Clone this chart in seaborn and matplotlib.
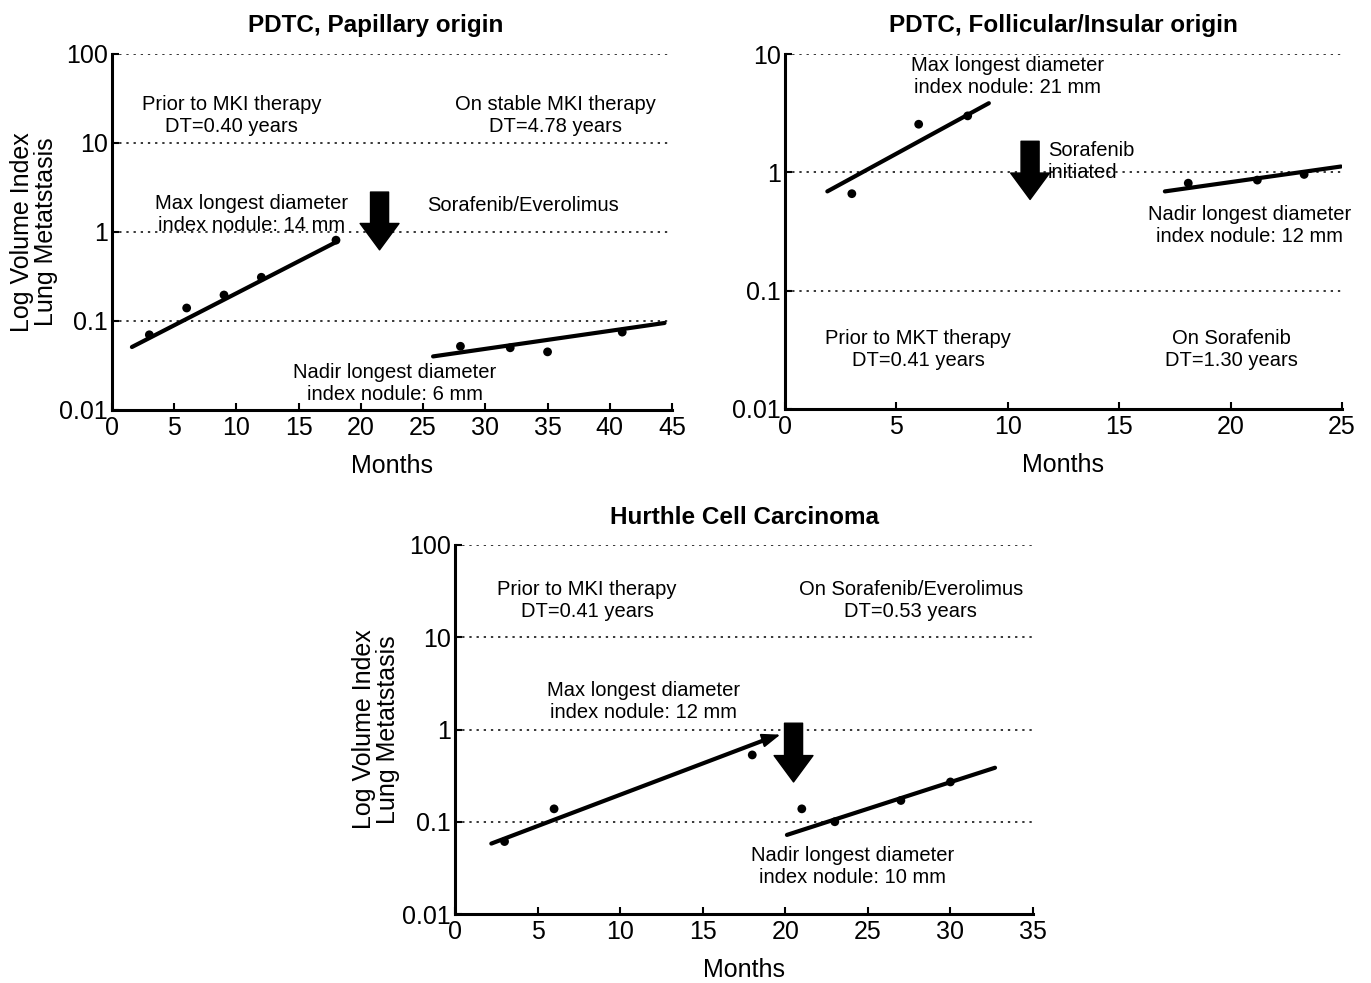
import numpy as np
import pandas as pd
import matplotlib
matplotlib.use("Agg")
import matplotlib.pyplot as plt
from matplotlib.ticker import FixedLocator, NullLocator, FuncFormatter
import seaborn as sns

sns.set_style("ticks")
plt.rcParams['font.family'] = ['Liberation Sans', 'DejaVu Sans']
plt.rcParams['text.color'] = 'black'
plt.rcParams['axes.labelcolor'] = 'black'
plt.rcParams['xtick.color'] = 'black'
plt.rcParams['ytick.color'] = 'black'

# ---- data (months, log volume index) ----
# PDTC, papillary origin
pap_pre_months = [3, 6, 9, 12, 18]
pap_pre_vol = [0.070, 0.14, 0.196, 0.31, 0.81]
pap_on_months = [28, 32, 35, 41]
pap_on_vol = [0.052, 0.050, 0.045, 0.075]
pap_fit_pre_x = [1.6, 18.0]
pap_fit_pre_y = [0.051, 0.77]
pap_fit_on_x = [25.8, 44.4]
pap_fit_on_y = [0.040, 0.095]

# PDTC, follicular/insular origin
fol_pre_months = [3, 6, 8.2]
fol_pre_vol = [0.66, 2.55, 3.0]
fol_on_months = [18.1, 21.2, 23.3]
fol_on_vol = [0.81, 0.86, 0.96]
fol_fit_pre_x = [1.9, 9.15]
fol_fit_pre_y = [0.69, 3.84]
fol_fit_on_x = [17.05, 24.95]
fol_fit_on_y = [0.69, 1.12]

# Hurthle cell carcinoma
hur_pre_months = [3, 6, 18]
hur_pre_vol = [0.061, 0.138, 0.53]
hur_on_months = [21, 23, 27, 30]
hur_on_vol = [0.138, 0.10, 0.17, 0.27]
hur_fit_pre_x = [2.2, 19.0]
hur_fit_pre_y = [0.058, 0.80]
hur_fit_on_x = [20.1, 32.7]
hur_fit_on_y = [0.072, 0.385]

TXT = 14.5
LW_FIT = 3.0


def style_axis(ax, xmax, xstep, ymin, ymax):
    ax.set_yscale('log')
    ax.set_xlim(0, xmax)
    ax.set_ylim(ymin, ymax)
    decades = [10.0 ** k for k in range(int(np.log10(ymin)), int(np.log10(ymax)) + 1)]
    ax.yaxis.set_major_locator(FixedLocator(decades))
    ax.yaxis.set_minor_locator(NullLocator())
    ax.yaxis.set_major_formatter(FuncFormatter(lambda v, p: f"{v:g}"))
    ax.set_xticks(np.arange(0, xmax + 0.1, xstep))
    ax.tick_params(direction='in', length=5, width=1.5, labelsize=18, pad=3, colors='black')
    ax.tick_params(axis='x', pad=4)
    for s in ['top', 'right']:
        ax.spines[s].set_visible(False)
    for s in ['left', 'bottom']:
        ax.spines[s].set_linewidth(2.2)
        ax.spines[s].set_color('black')
    for d in decades[1:]:
        ax.axhline(d, color='black', lw=1.1, ls=(0, (1.5, 3.2)), zorder=0)
    ax.set_xlabel('Months', fontsize=18)


def block_arrow(ax, x, ytop, ybot):
    ax.annotate('', xy=(x, ybot), xytext=(x, ytop),
                arrowprops=dict(arrowstyle='simple,head_length=0.95,head_width=1.4,tail_width=0.65',
                                fc='black', ec='black', mutation_scale=20, shrinkA=0, shrinkB=0))


def draw_series(ax, mx, my, fx, fy):
    sns.lineplot(x=fx, y=fy, ax=ax, color='black', lw=LW_FIT, sort=False)
    sns.scatterplot(x=mx, y=my, ax=ax, color='black', s=40, edgecolor='none', zorder=3)


def note(ax, x, y, s, ha='center'):
    ax.text(x, y, s, ha=ha, va='center', fontsize=TXT, linespacing=1.2)


fig = plt.figure(figsize=(13.71, 9.83), dpi=100)
W, H = 1371, 983
ax1 = fig.add_axes([112 / W, 1 - 410 / H, 560 / W, 356 / H])
ax2 = fig.add_axes([785 / W, 1 - 409 / H, 557 / W, 355 / H])
ax3 = fig.add_axes([455 / W, 1 - 914 / H, 578 / W, 369 / H])

# ---- panel 1 ----
draw_series(ax1, pap_pre_months, pap_pre_vol, pap_fit_pre_x, pap_fit_pre_y)
draw_series(ax1, pap_on_months, pap_on_vol, pap_fit_on_x, pap_fit_on_y)
style_axis(ax1, 45, 5, 0.01, 100)
ax1.set_title('PDTC, Papillary origin', fontsize=17.5, fontweight='bold', x=0.47, pad=16)
ax1.set_ylabel('Log Volume Index\nLung Metatstasis', fontsize=18, linespacing=1.0)
ax1.yaxis.set_label_coords(-0.097, 0.5)
ax1.xaxis.set_label_coords(0.5, -0.125)
note(ax1, 9.6, 20.6, 'Prior to MKI therapy\nDT=0.40 years')
note(ax1, 35.6, 20.6, 'On stable MKI therapy\nDT=4.78 years')
note(ax1, 11.25, 1.59, 'Max longest diameter\nindex nodule: 14 mm')
note(ax1, 33.0, 2.01, 'Sorafenib/Everolimus')
note(ax1, 22.75, 0.0201, 'Nadir longest diameter\nindex nodule: 6 mm')
block_arrow(ax1, 21.5, 2.81, 0.63)

# ---- panel 2 ----
draw_series(ax2, fol_pre_months, fol_pre_vol, fol_fit_pre_x, fol_fit_pre_y)
draw_series(ax2, fol_on_months, fol_on_vol, fol_fit_on_x, fol_fit_on_y)
style_axis(ax2, 25, 5, 0.01, 10)
ax2.set_title('PDTC, Follicular/Insular origin', fontsize=17.5, fontweight='bold', pad=16)
ax2.set_ylabel('')
ax2.xaxis.set_label_coords(0.5, -0.125)
note(ax2, 10.0, 6.4, 'Max longest diameter\nindex nodule: 21 mm')
note(ax2, 11.8, 1.24, 'Sorafenib\ninitiated', ha='left')
note(ax2, 20.87, 0.356, 'Nadir longest diameter\nindex nodule: 12 mm')
note(ax2, 5.97, 0.0316, 'Prior to MKT therapy\nDT=0.41 years')
note(ax2, 20.06, 0.0316, 'On Sorafenib\nDT=1.30 years')
block_arrow(ax2, 11.0, 1.83, 0.59)

# ---- panel 3 ----
draw_series(ax3, hur_pre_months, hur_pre_vol, hur_fit_pre_x, hur_fit_pre_y)
draw_series(ax3, hur_on_months, hur_on_vol, hur_fit_on_x, hur_fit_on_y)
ax3.annotate('', xy=(19.7, 0.88), xytext=(hur_fit_pre_x[1], hur_fit_pre_y[1]),
             arrowprops=dict(arrowstyle='-|>,head_length=0.8,head_width=0.3', color='black',
                             lw=1.5, mutation_scale=14, shrinkA=0, shrinkB=0))
style_axis(ax3, 35, 5, 0.01, 100)
ax3.set_title('Hurthle Cell Carcinoma', fontsize=17.5, fontweight='bold', pad=15)
ax3.set_ylabel('Log Volume Index\nLung Metatstasis', fontsize=18, linespacing=1.0)
ax3.yaxis.set_label_coords(-0.095, 0.5)
ax3.xaxis.set_label_coords(0.5, -0.12)
note(ax3, 8.0, 24.9, 'Prior to MKI therapy\nDT=0.41 years')
note(ax3, 27.6, 24.9, 'On Sorafenib/Everolimus\nDT=0.53 years')
note(ax3, 11.4, 2.0, 'Max longest diameter\nindex nodule: 12 mm')
note(ax3, 24.05, 0.0325, 'Nadir longest diameter\nindex nodule: 10 mm')
block_arrow(ax3, 20.5, 1.17, 0.27)

fig.savefig('out.png', dpi=100)
